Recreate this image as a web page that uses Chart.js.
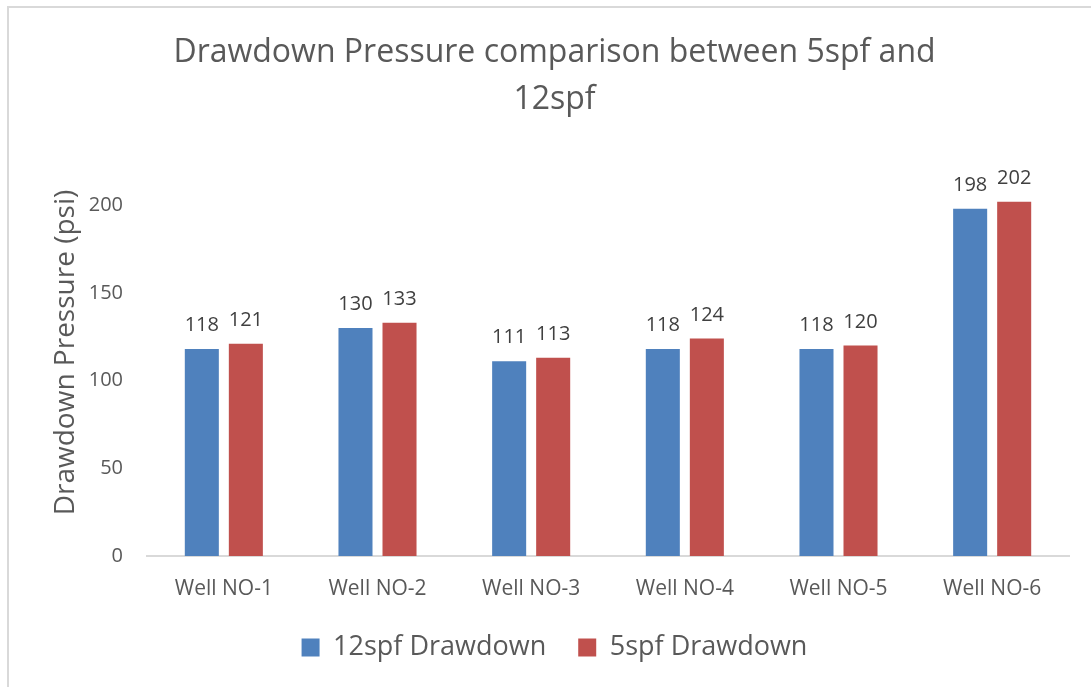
<!DOCTYPE html>
<html>
<head>
<meta charset="utf-8">
<script src="https://cdn.jsdelivr.net/npm/chart.js@4.4.1/dist/chart.umd.min.js"></script>
<style>
  html, body { margin: 0; padding: 0; background: #fff; }
  #wrap { position: relative; width: 1091px; height: 687px; overflow: hidden; }
  #frame { position: absolute; left: 7px; top: 6px; width: 1200px; height: 800px;
           border-left: 2px solid #d9d9d9; border-top: 2px solid #d9d9d9; }
  #myChart { position: absolute; left: 0; top: 0; }
</style>
</head>
<body>
<div id="wrap">
  <div id="frame"></div>
  <canvas id="myChart" width="1091" height="687"></canvas>
</div>
<script>
var wells = ['Well NO-1', 'Well NO-2', 'Well NO-3', 'Well NO-4', 'Well NO-5', 'Well NO-6'];
var drawdown12spf = [118, 130, 111, 118, 118, 198];
var drawdown5spf = [121, 133, 113, 124, 120, 202];
var yTicks = [0, 50, 100, 150, 200];

var textColor = '#595959';
var fontFamily = '"Open Sans", "Noto Sans", sans-serif';

// value labels above each bar
var barLabels = {
    id: 'barLabels',
    afterDatasetsDraw: function(chart) {
        var ctx = chart.ctx;
        ctx.save();
        ctx.font = '20px ' + fontFamily;
        ctx.fillStyle = '#404040';
        ctx.textAlign = 'center';
        ctx.textBaseline = 'alphabetic';
        chart.data.datasets.forEach(function(ds, i) {
            chart.getDatasetMeta(i).data.forEach(function(bar, j) {
                ctx.fillText(ds.data[j], bar.x, bar.y - 18);
            });
        });
        ctx.restore();
    }
};

var ctx = document.getElementById('myChart');
var myChart = new Chart(ctx, {
    type: 'bar',
    data: {
        labels: wells,
        datasets: [{
            label: '12spf Drawdown',
            data: drawdown12spf,
            backgroundColor: '#4F81BD',
            borderWidth: 0
        }, {
            label: '5spf Drawdown',
            data: drawdown5spf,
            backgroundColor: '#C0504D',
            borderWidth: 0
        }]
    },
    plugins: [barLabels],
    options: {
        responsive: false,
        animation: false,
        categoryPercentage: 0.573,
        barPercentage: 0.773,
        layout: {
            padding: { left: 40, right: 22, top: 0, bottom: 16 }
        },
        plugins: {
            tooltip: { enabled: false },
            title: {
                display: true,
                text: ['Drawdown Pressure comparison between 5spf and', '12spf'],
                color: textColor,
                font: { family: fontFamily, size: 32, weight: 'normal', lineHeight: 1.47 },
                padding: { top: 29, bottom: 26 }
            },
            legend: {
                position: 'bottom',
                labels: {
                    color: textColor,
                    font: { family: fontFamily, size: 27 },
                    boxWidth: 18,
                    boxHeight: 18,
                    padding: 32
                }
            }
        },
        scales: {
            x: {
                grid: { display: false, drawTicks: false },
                border: { display: true, color: '#d9d9d9', width: 2 },
                afterFit: function(axis) {
                    axis.height = 46;
                },
                ticks: {
                    color: textColor,
                    font: { family: fontFamily, size: 21 },
                    padding: 20,
                    maxRotation: 0
                }
            },
            y: {
                min: 0,
                max: 232,
                grid: { display: false, drawTicks: false },
                border: { display: false },
                afterBuildTicks: function(axis) {
                    axis.ticks = yTicks.map(function(v) { return { value: v }; });
                },
                afterFit: function(axis) {
                    axis.width = 107;
                },
                ticks: {
                    color: textColor,
                    font: { family: fontFamily, size: 20 },
                    padding: 24
                },
                title: {
                    display: true,
                    text: 'Drawdown Pressure (psi)',
                    color: textColor,
                    font: { family: fontFamily, size: 28 },
                    padding: { top: 9, bottom: 0 }
                }
            }
        }
    }
});
</script>
</body>
</html>
